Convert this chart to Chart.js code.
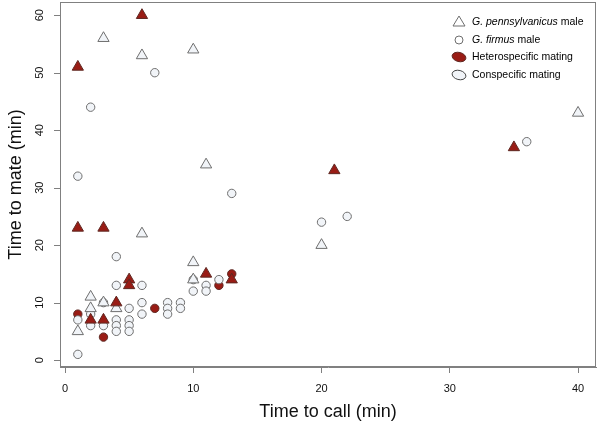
<!DOCTYPE html>
<html>
<head>
<meta charset="utf-8">
<script src="https://cdn.jsdelivr.net/npm/chart.js@4.4.1/dist/chart.umd.min.js"></script>
<style>
  html, body { margin: 0; padding: 0; background: #fff; }
  #wrap { width: 600px; height: 421px; }
</style>
</head>
<body>
<div id="wrap"><canvas id="myChart"></canvas></div>
<script>
// G. pennsylvanicus males, conspecific mating (open triangles)
const pennConX = [3, 6, 10, 40, 11, 6, 20, 10, 2, 3, 2, 4, 1, 10];
const pennConY = [56, 53, 54, 43, 34, 22, 20, 17, 11, 10, 9, 9, 5, 14];
// G. pennsylvanicus males, heterospecific mating (red triangles)
const pennHetX = [6, 1, 35, 21, 1, 3, 5, 5, 4, 2, 3, 11, 13];
const pennHetY = [60, 51, 37, 33, 23, 23, 14, 13, 10, 7, 7, 15, 14];
// G. firmus males, conspecific mating (open circles)
const firmConX = [7, 2, 36, 1, 13, 22, 20, 4, 4, 6, 3, 2, 5, 6, 6, 8, 8, 8, 9, 9, 1, 2, 3, 4, 4, 4, 5, 5, 5, 1, 10, 10, 11, 11, 12];
const firmConY = [50, 44, 38, 32, 29, 25, 24, 18, 13, 13, 10, 8, 9, 10, 8, 10, 9, 8, 10, 9, 7, 6, 6, 7, 6, 5, 7, 6, 5, 1, 14, 12, 13, 12, 14];
// G. firmus males, heterospecific mating (red circles)
const firmHetX = [1, 3, 7, 12, 13];
const firmHetY = [8, 4, 9, 13, 15];

const xTicks = [0, 10, 20, 30, 40];
const yTicks = [0, 10, 20, 30, 40, 50, 60];

const openFill = '#f1f4f8';
const openEdge = '#6e6e6e';
const redFill = '#991c15';
const redEdge = '#5e2822';
const FONT = '"Liberation Sans", Arial, Helvetica, sans-serif';

function pts(xs, ys) {
  return xs.map((x, i) => ({ x: x, y: ys[i] }));
}

// box, rotated y tick labels and the legend, R style
const extras = {
  id: 'extras',
  afterDraw(chart) {
    const ctx = chart.ctx;
    const a = chart.chartArea;
    ctx.save();
    ctx.strokeStyle = '#808080';
    ctx.lineWidth = 1;
    ctx.strokeRect(a.left + 0.5, a.top + 0.5, a.right - a.left - 1, a.bottom - a.top - 1);

    ctx.fillStyle = '#111';
    ctx.font = '11px ' + FONT;
    ctx.textAlign = 'center';
    ctx.textBaseline = 'middle';
    yTicks.forEach(v => {
      const y = chart.scales.y.getPixelForValue(v);
      ctx.beginPath();
      ctx.moveTo(a.left - 6, Math.round(y) + 0.5);
      ctx.lineTo(a.left, Math.round(y) + 0.5);
      ctx.stroke();
      ctx.save();
      ctx.translate(40, y);
      ctx.rotate(-Math.PI / 2);
      ctx.fillText(String(v), 0, 0);
      ctx.restore();
    });

    // legend
    const sx = 459, tx = 472;
    const rows = [22, 40, 57, 75];
    ctx.lineWidth = 1;
    ctx.beginPath();
    ctx.moveTo(sx, rows[0] - 6);
    ctx.lineTo(sx + 6, rows[0] + 4);
    ctx.lineTo(sx - 6, rows[0] + 4);
    ctx.closePath();
    ctx.fillStyle = '#fff'; ctx.fill();
    ctx.strokeStyle = openEdge; ctx.stroke();
    ctx.beginPath();
    ctx.arc(sx, rows[1], 4, 0, Math.PI * 2);
    ctx.fill(); ctx.stroke();
    ctx.beginPath();
    ctx.ellipse(sx, rows[2], 7, 4.6, 0.25, 0, Math.PI * 2);
    ctx.fillStyle = redFill; ctx.fill();
    ctx.strokeStyle = redEdge; ctx.stroke();
    ctx.beginPath();
    ctx.ellipse(sx, rows[3], 7, 4.6, 0.25, 0, Math.PI * 2);
    ctx.fillStyle = openFill; ctx.fill();
    ctx.strokeStyle = '#444'; ctx.stroke();

    ctx.fillStyle = '#000';
    ctx.textAlign = 'left';
    const mixed = (it, rest, y) => {
      ctx.font = 'italic 10.5px ' + FONT;
      ctx.fillText(it, tx, y);
      const w = ctx.measureText(it).width;
      ctx.font = '10.5px ' + FONT;
      ctx.fillText(rest, tx + w, y);
    };
    mixed('G. pennsylvanicus', ' male', rows[0]);
    mixed('G. firmus', ' male', rows[1]);
    ctx.font = '10.5px ' + FONT;
    ctx.fillText('Heterospecific mating', tx, rows[2]);
    ctx.fillText('Conspecific mating', tx, rows[3]);
    ctx.restore();
  }
};

const ctx = document.getElementById('myChart');

const config = {
  type: 'scatter',
  data: {
    datasets: [
      {
        label: 'G. pennsylvanicus heterospecific',
        data: pts(pennHetX, pennHetY),
        pointStyle: 'triangle', pointRadius: 6.5,
        backgroundColor: redFill, borderColor: redEdge, borderWidth: 1,
        order: 0
      },
      {
        label: 'G. pennsylvanicus conspecific',
        data: pts(pennConX, pennConY),
        pointStyle: 'triangle', pointRadius: 6.5,
        backgroundColor: openFill, borderColor: openEdge, borderWidth: 1,
        order: 1
      },
      {
        label: 'G. firmus conspecific',
        data: pts(firmConX, firmConY),
        pointStyle: 'circle', pointRadius: 4.2,
        backgroundColor: openFill, borderColor: openEdge, borderWidth: 1,
        order: 2
      },
      {
        label: 'G. firmus heterospecific',
        data: pts(firmHetX, firmHetY),
        pointStyle: 'circle', pointRadius: 4.2,
        backgroundColor: redFill, borderColor: redEdge, borderWidth: 1,
        order: 3
      }
    ]
  },
  options: {
    responsive: true,
    maintainAspectRatio: false,
    animation: false,
    events: [],
    layout: { autoPadding: false, padding: { top: 2, right: 4, left: 0, bottom: 0 } },
    scales: {
      x: {
        type: 'linear',
        min: -0.39,
        max: 41.4,
        afterBuildTicks: s => { s.ticks = xTicks.map(v => ({ value: v })); },
        afterFit: s => { s.height = 54; },
        border: { display: true, color: '#808080' },
        grid: { drawOnChartArea: false, drawTicks: true, tickLength: 6, color: '#808080' },
        ticks: { maxRotation: 0, padding: 9, color: '#111', font: { size: 11, family: FONT } },
        title: {
          display: true,
          text: 'Time to call (min)',
          color: '#111',
          font: { size: 18, family: FONT, lineHeight: 1 },
          padding: { top: 0, bottom: 0 }
        }
      },
      y: {
        type: 'linear',
        min: -1.2,
        max: 62.3,
        afterFit: s => { s.width = 60; },
        border: { display: true, color: '#808080' },
        grid: { display: false },
        ticks: { display: false },
        title: {
          display: true,
          text: 'Time to mate (min)',
          color: '#111',
          font: { size: 18, family: FONT },
          padding: { top: 5, bottom: 0 }
        }
      }
    },
    plugins: {
      legend: { display: false },
      tooltip: { enabled: false }
    }
  },
  plugins: [extras]
};

new Chart(ctx, config);
</script>
</body>
</html>
